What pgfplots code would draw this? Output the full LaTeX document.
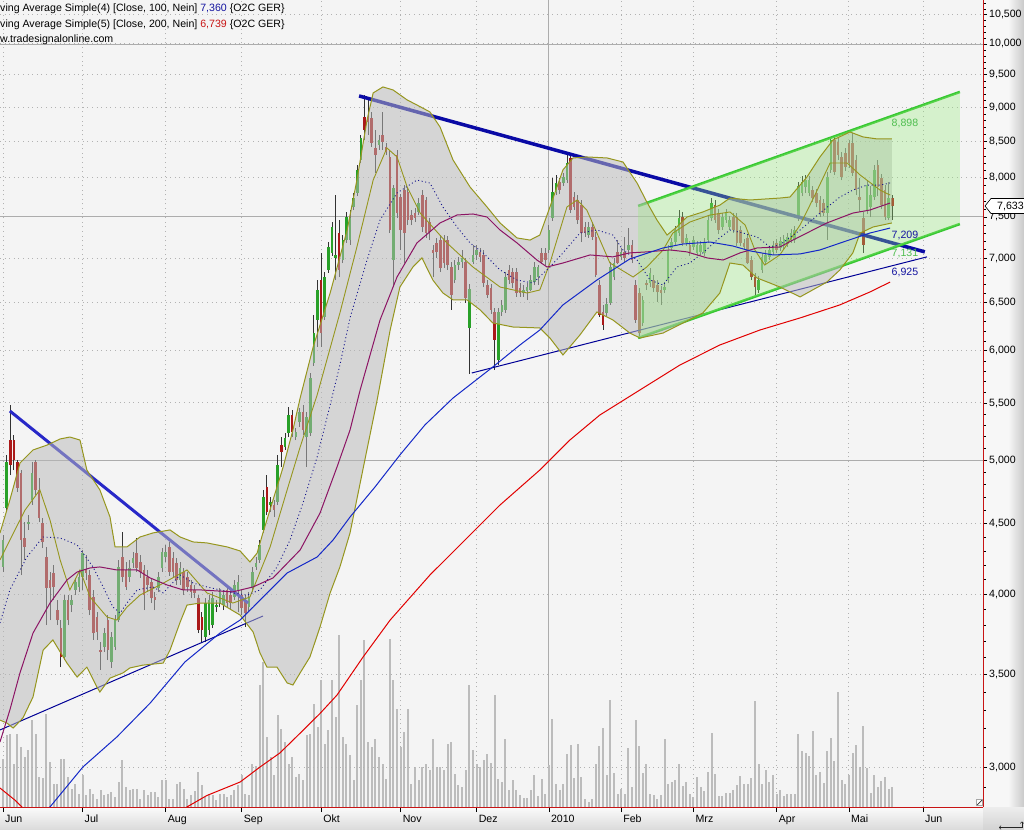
\documentclass[border=0pt]{standalone}
\usepackage{fontspec}
\setmainfont{Liberation Sans}
\usepackage{pgfplots}
\pgfplotsset{compat=1.18}
\usepackage{pgfplotstable}

\definecolor{plotbg}{RGB}{244,244,244}
\definecolor{candleup}{RGB}{40,160,40}
\definecolor{candledn}{RGB}{170,25,25}
\definecolor{wick}{RGB}{50,50,50}
\definecolor{bandfill}{RGB}{185,185,185}
\definecolor{bandline}{RGB}{150,150,30}
\definecolor{smablue}{RGB}{20,40,200}
\definecolor{smapurple}{RGB}{140,20,100}
\definecolor{smared}{RGB}{225,0,0}
\definecolor{midblue}{RGB}{20,20,140}
\definecolor{trendblue}{RGB}{10,10,165}
\definecolor{trendblue2}{RGB}{40,40,200}
\definecolor{thinblue}{RGB}{0,0,150}
\definecolor{chgreen}{RGB}{55,200,50}
\definecolor{chfill}{RGB}{150,235,120}
\definecolor{volbar}{RGB}{188,188,188}
\definecolor{gridgray}{RGB}{178,178,178}
\definecolor{lblgreen}{RGB}{80,190,80}
\definecolor{lblblue}{RGB}{20,20,160}
\definecolor{lblred}{RGB}{200,20,20}
\definecolor{framered}{RGB}{200,20,20}

\newcommand{\tickfont}{\fontsize{10.6}{12}\selectfont}

% daily candles: day index, open, high, low, close
\pgfplotstableread{
d O H L C
0 4186 4415 4151 4378
1 4618 5044 4587 4985
2 5171 5482 4878 4960
3 5171 5214 4919 5002
4 4985 5002 4743 4774
5 4894 4919 4130 4378
6 4393 4511 4235 4328
7 4496 4564 4452 4511
8 4680 4985 4641 4894
9 4985 5002 4719 4759
10 4759 4854 4511 4541
11 4504 4541 4320 4364
12 4256 4328 3800 4042
13 4096 4151 3832 4042
14 4144 4200 3962 4049
15 3896 3962 3800 3832
16 3781 3832 3543 3603
17 3603 3995 3585 3962
18 3962 3995 3800 3832
19 3929 3995 3883 3962
20 4029 4110 3995 4082
21 4049 4165 4016 4117
22 4117 4306 4029 4284
23 4165 4270 4096 4144
24 4130 4165 3864 3896
25 3982 4029 3707 3750
26 3851 3883 3707 3756
27 3645 3694 3526 3633
28 3664 3781 3633 3750
29 3832 3864 3585 3645
30 3573 3756 3538 3725
31 3664 3864 3645 3832
32 3832 4235 3819 4186
33 4256 4437 4082 4117
34 4165 4221 4029 4049
35 4117 4235 4082 4179
36 4214 4292 4179 4249
37 4284 4393 4151 4179
38 4221 4270 4110 4151
39 4165 4200 3896 3995
40 4117 4165 4016 4062
41 4082 4110 3942 3975
42 3982 4016 3896 3962
43 4042 4151 4016 4117
44 4179 4320 4151 4292
45 4256 4342 4221 4292
46 4328 4364 4124 4151
47 4249 4292 4110 4151
48 4214 4249 4062 4096
49 4096 4221 4062 4179
50 4151 4179 3995 4029
51 4117 4151 4016 4049
52 4062 4096 3975 4016
53 4029 4062 3975 4009
54 3975 3995 3750 3769
55 3851 3883 3688 3769
56 3725 3975 3694 3942
57 3769 3995 3737 3962
58 3800 4016 3781 3975
59 3916 3962 3883 3929
60 3942 4042 3916 4016
61 3929 4029 3896 3995
62 4029 4062 3909 3942
63 3995 4029 3896 3942
64 3982 4096 3962 4062
65 4029 4130 3883 4082
66 3995 4029 3864 3909
67 3962 3995 3788 3877
68 3916 4016 3883 3982
69 4042 4186 4016 4151
70 4186 4256 4165 4214
71 4235 4378 4214 4342
72 4452 4759 4430 4703
73 4782 4878 4564 4587
74 4641 4703 4587 4664
75 4641 4680 4549 4602
76 4664 5044 4641 4960
77 5128 5197 4944 5069
78 5111 5231 5086 5188
79 5231 5464 5197 5391
80 5391 5436 5197 5240
81 5197 5275 5171 5240
82 5328 5454 5284 5418
83 5418 5482 5214 5258
84 5197 5418 4944 5373
85 5231 5782 5205 5734
86 5880 6369 5850 6180
87 6316 6750 6038 6639
88 6750 7062 6038 6180
89 6348 6841 6316 6784
90 6864 7191 6830 7132
91 7062 7435 7026 7374
92 7003 7777 6750 7038
93 7300 7460 6784 6864
94 6979 7276 6944 7215
95 7215 7560 7180 7497
96 7215 7585 7156 7485
97 7623 7803 7585 7738
98 7803 8175 7764 8108
99 8243 8594 8202 8551
100 8855 9186 8523 8666
101 8855 9110 8594 8782
102 8840 8930 8424 8480
103 8410 8666 8067 8312
104 8452 8594 8382 8523
105 8594 8930 8382 8495
106 8424 8480 8312 8354
107 8285 8382 7300 7337
108 6979 7907 6672 7868
109 8312 8382 7485 7547
110 7751 7790 7097 7337
111 7842 7907 6944 7300
112 7816 7868 7398 7460
113 7522 7585 7398 7460
114 7547 7610 7435 7485
115 7560 7738 7522 7674
116 7777 7842 7312 7374
117 7712 7751 7240 7300
118 7435 7485 7215 7312
119 7097 7156 6784 7062
120 7180 7240 7003 7074
121 7215 7276 6841 6887
122 7215 7276 6887 6944
123 7215 7264 6864 6921
124 6898 6956 6422 6584
125 6750 6979 6716 6921
126 6921 7015 6864 6956
127 6956 7097 6887 7003
128 6956 7003 6498 6552
129 6232 6700 5773 6650
130 6956 7156 6930 7038
131 7038 7156 6979 7097
132 7074 7121 6956 7015
133 7038 7097 6672 6716
134 6694 6750 6552 6584
135 6661 6705 6380 6422
136 6401 6443 5811 6109
137 5909 6443 5860 6401
138 6401 6530 6358 6476
139 6422 6841 6390 6784
140 6864 6921 6705 6750
141 6841 6887 6661 6716
142 6841 6887 6563 6606
143 6661 6716 6563 6606
144 6606 6694 6563 6639
145 6628 6716 6530 6672
146 6639 6807 6628 6750
147 6727 6956 6694 6898
148 6784 6921 6694 6898
149 7062 7121 6933 6956
150 7062 7121 6921 6979
151 7097 7398 7062 7337
152 7485 8000 7448 7816
153 7816 8040 7777 7934
154 7947 8000 7790 7842
155 7934 8067 7894 8013
156 7973 8340 7934 8202
157 8271 8312 7547 7585
158 7751 7816 7585 7623
159 7712 7777 7410 7460
160 7648 7712 7191 7300
161 7374 7435 7252 7300
162 7276 7435 7240 7374
163 7374 7435 7215 7252
164 7252 7312 6784 6807
165 6694 6750 6348 6369
166 6401 6476 6211 6263
167 6390 6552 6358 6487
168 6498 6956 6476 6898
169 6784 7003 6750 6944
170 7074 7215 6933 6944
171 7015 7121 6979 7074
172 7074 7252 6956 7003
173 7097 7361 7062 7156
174 7156 7215 6944 6979
175 6694 6750 6284 6316
176 6606 6661 6139 6180
177 6284 6573 6253 6530
178 6716 6750 6639 6694
179 6716 6887 6672 6830
180 6750 6807 6617 6661
181 6694 6750 6508 6617
182 6639 6683 6476 6606
183 6639 6727 6606 6672
184 6750 7156 6716 7097
185 7121 7240 7086 7191
186 7191 7386 7156 7337
187 7300 7585 7264 7485
188 7497 7560 7144 7180
189 7180 7288 7144 7240
190 7156 7203 7026 7074
191 7132 7264 7097 7215
192 7062 7203 7026 7156
193 7074 7203 7038 7156
194 7062 7240 7026 7191
195 7215 7510 7180 7460
196 7485 7738 7448 7674
197 7648 7712 7423 7460
198 7547 7598 7288 7337
199 7374 7547 7337 7497
200 7460 7598 7423 7547
201 7374 7510 7337 7460
202 7497 7547 7300 7337
203 7497 7547 7144 7180
204 7337 7386 7144 7180
205 7180 7227 7097 7132
206 7240 7288 6933 6944
207 6979 7026 6750 6784
208 6784 6830 6563 6672
209 6639 6796 6606 6750
210 6864 7062 6830 7015
211 6956 7097 6921 7038
212 7015 7144 6979 7097
213 7074 7203 7038 7156
214 7180 7227 7062 7097
215 7121 7252 7086 7203
216 7144 7276 7109 7227
217 7168 7300 7132 7252
218 7215 7349 7180 7300
219 7215 7386 7180 7337
220 7485 7947 7448 7894
221 7803 8027 7764 7947
222 7881 8040 7803 7973
223 7803 8027 7764 7973
224 7842 7894 7687 7738
225 7803 7855 7623 7674
226 7712 7764 7497 7547
227 7674 7725 7510 7547
228 7547 8081 7215 8013
229 8108 8566 8067 8523
230 8523 8580 8040 8081
231 8495 8551 8243 8312
232 8285 8354 7973 8013
233 8340 8410 8094 8148
234 8480 8523 8135 8202
235 8480 8623 8027 8067
236 8243 8312 7777 7842
237 7751 8000 7560 7712
238 7485 7560 7062 7156
239 7585 7973 7535 7907
240 7623 7894 7497 7777
241 7751 8175 7712 8108
242 8175 8243 7764 7881
243 8000 8054 7598 7648
244 7842 7907 7460 7497
245 7485 7947 7460 7738
246 7738 7777 7460 7633
}\candles

% daily volume (relative units)
\pgfplotstableread{
d v
0 48
1 72
2 73
3 43
4 73
5 60
6 50
7 57
8 87
9 73
10 30
11 29
12 93
13 45
14 23
15 23
16 48
17 48
18 30
19 18
20 23
21 13
22 32
23 12
24 18
25 13
26 8
27 17
28 12
29 13
30 15
31 10
32 25
33 47
34 20
35 17
36 18
37 18
38 8
39 17
40 12
41 15
42 15
43 10
44 27
45 27
46 8
47 8
48 23
49 25
50 18
51 8
52 12
53 16
54 35
55 22
56 10
57 13
58 12
59 7
60 13
61 13
62 10
63 12
64 17
65 22
66 32
67 13
68 12
69 43
70 41
71 122
72 145
73 70
74 50
75 32
76 92
77 78
78 65
79 43
80 50
81 30
82 33
83 27
84 72
85 73
86 103
87 80
88 127
89 63
90 77
91 127
92 90
93 172
94 70
95 63
96 52
97 27
98 102
99 127
100 167
101 65
102 60
103 68
104 50
105 43
106 28
107 168
108 127
109 98
110 60
111 75
112 98
113 23
114 40
115 27
116 40
117 43
118 37
119 68
120 40
121 40
122 37
123 63
124 65
125 33
126 22
127 20
128 37
129 122
130 57
131 43
132 40
133 47
134 53
135 44
136 112
137 28
138 25
139 68
140 17
141 27
142 17
143 12
144 9
145 9
146 17
147 32
148 11
149 28
150 13
151 42
152 88
153 23
154 17
155 23
156 53
157 62
158 29
159 63
160 30
161 8
162 5
163 8
164 43
165 61
166 79
167 32
168 107
169 34
170 13
171 18
172 13
173 59
174 20
175 87
176 61
177 34
178 43
179 13
180 12
181 8
182 12
183 68
184 23
185 25
186 27
187 43
188 21
189 25
190 13
191 10
192 30
193 20
194 16
195 35
196 74
197 33
198 11
199 11
200 14
201 14
202 17
203 22
204 31
205 23
206 23
207 29
208 106
209 43
210 23
211 37
212 25
213 32
214 13
215 17
216 11
217 13
218 13
219 13
220 73
221 56
222 54
223 51
224 76
225 32
226 35
227 24
228 56
229 69
230 46
231 115
232 27
233 23
234 32
235 54
236 62
237 40
238 81
239 39
240 14
241 32
242 20
243 26
244 30
245 18
246 20
}\volume

% Bollinger upper band
\pgfplotstableread{
d p
-0.83 4430
1.9 4680
4.7 4977
8.3 5086
12.2 5128
15.8 5180
18.5 5197
21.3 5171
23.2 4919
26.8 4759
29.6 4549
31.0 4328
34.3 4328
37.9 4400
41.5 4430
46.2 4452
49.0 4400
52.6 4364
56.4 4357
62.0 4328
65.6 4299
68.3 4221
70.3 4284
71.9 4430
74.7 4680
77.5 4944
80.2 5258
82.2 5546
85.8 6038
90.5 6606
95.2 7337
97.9 7973
100.7 8811
102.4 9217
105.1 9309
107.9 9263
111.8 9110
114.5 9034
118.1 8930
120.9 8709
124.5 8243
129.2 7881
133.9 7623
137.5 7423
142.2 7240
145.8 7215
148.5 7276
151.3 7623
154.9 8108
157.7 8271
161.5 8285
167.1 8271
171.5 8216
175.4 7934
178.1 7687
180.9 7460
183.7 7276
186.4 7374
189.2 7497
193.6 7560
198.3 7648
201.1 7738
206.6 7712
214.9 7738
217.7 7751
222.4 8013
226.0 8285
229.6 8523
234.3 8637
237.9 8566
241.8 8537
245.9 8537
}\bbup

% Bollinger lower band
\pgfplotstableread{
d p
-0.83 3244
1.1 3228
2.8 3201
5.5 3255
8.3 3371
11.1 3645
13.8 3707
17.7 3567
20.5 3485
23.2 3543
26.0 3427
26.8 3399
29.6 3479
33.2 3509
35.1 3538
38.7 3555
44.3 3567
46.2 3645
49.0 3819
50.9 3929
54.5 3942
60.0 3942
65.6 3864
69.2 3756
71.1 3627
73.0 3543
75.8 3543
78.6 3451
80.2 3439
82.2 3509
84.9 3603
87.7 3788
90.5 4009
93.2 4186
96.0 4430
100.1 5002
103.5 5528
107.1 6211
109.8 6672
113.4 6898
115.9 7003
118.9 6750
121.7 6606
124.5 6530
128.4 6530
132.0 6422
135.5 6284
141.1 6242
148.5 6232
151.3 6129
154.9 5958
159.6 6160
164.3 6401
168.7 6316
173.4 6180
176.2 6129
182.6 6180
188.1 6284
193.6 6390
198.3 6606
201.1 6944
204.7 6921
208.6 6773
212.2 6716
214.9 6672
220.5 6563
227.9 6727
231.5 6864
235.1 7062
237.1 7300
240.7 7374
245.9 7423
}\bblo

% band outline as one closed polygon: upper band left to right, lower band right to left
\pgfplotstableread{
d p
-0.83 4430
1.9 4680
4.7 4977
8.3 5086
12.2 5128
15.8 5180
18.5 5197
21.3 5171
23.2 4919
26.8 4759
29.6 4549
31.0 4328
34.3 4328
37.9 4400
41.5 4430
46.2 4452
49.0 4400
52.6 4364
56.4 4357
62.0 4328
65.6 4299
68.3 4221
70.3 4284
71.9 4430
74.7 4680
77.5 4944
80.2 5258
82.2 5546
85.8 6038
90.5 6606
95.2 7337
97.9 7973
100.7 8811
102.4 9217
105.1 9309
107.9 9263
111.8 9110
114.5 9034
118.1 8930
120.9 8709
124.5 8243
129.2 7881
133.9 7623
137.5 7423
142.2 7240
145.8 7215
148.5 7276
151.3 7623
154.9 8108
157.7 8271
161.5 8285
167.1 8271
171.5 8216
175.4 7934
178.1 7687
180.9 7460
183.7 7276
186.4 7374
189.2 7497
193.6 7560
198.3 7648
201.1 7738
206.6 7712
214.9 7738
217.7 7751
222.4 8013
226.0 8285
229.6 8523
234.3 8637
237.9 8566
241.8 8537
245.9 8537
245.9 7423
240.7 7374
237.1 7300
235.1 7062
231.5 6864
227.9 6727
220.5 6563
214.9 6672
212.2 6716
208.6 6773
204.7 6921
201.1 6944
198.3 6606
193.6 6390
188.1 6284
182.6 6180
176.2 6129
173.4 6180
168.7 6316
164.3 6401
159.6 6160
154.9 5958
151.3 6129
148.5 6232
141.1 6242
135.5 6284
132.0 6422
128.4 6530
124.5 6530
121.7 6606
118.9 6750
115.9 7003
113.4 6898
109.8 6672
107.1 6211
103.5 5528
100.1 5002
96.0 4430
93.2 4186
90.5 4009
87.7 3788
84.9 3603
82.2 3509
80.2 3439
78.6 3451
75.8 3543
73.0 3543
71.1 3627
69.2 3756
65.6 3864
60.0 3942
54.5 3942
50.9 3929
49.0 3819
46.2 3645
44.3 3567
38.7 3555
35.1 3538
33.2 3509
29.6 3479
26.8 3399
26.0 3427
23.2 3543
20.5 3485
17.7 3567
13.8 3707
11.1 3645
8.3 3371
5.5 3255
2.8 3201
1.1 3228
-0.83 3244
}\bandpoly

% inner envelope line
\pgfplotstableread{
d p
-0.83 4235
1.9 4378
6.1 4602
10.2 4759
13.0 4526
15.8 4235
18.5 4029
21.3 4165
24.1 3982
28.8 3851
31.5 3832
34.3 3916
37.9 3995
43.4 4062
50.9 4165
56.4 4009
63.6 3942
68.3 3982
73.9 4328
78.6 4759
82.2 5111
86.9 5574
93.2 6390
97.9 7132
102.4 7973
106.2 8410
109.0 8285
111.8 7881
115.4 7547
122.8 7180
130.0 6898
137.5 6672
145.0 6606
148.5 6639
151.3 6944
156.0 7623
158.8 7712
161.5 7585
164.3 7300
167.9 6944
174.3 6784
178.1 6898
182.6 7097
185.3 7300
190.0 7435
195.6 7522
201.1 7560
205.3 7398
208.0 7097
210.7 6921
214.9 7038
220.5 7398
224.6 7777
228.8 8202
233.5 8202
237.1 8040
242.6 7842
245.4 7777
}\bbin

% 20-day average (band middle)
\pgfplotstableread{
d p
-0.83 3813
1.9 4029
6.6 4256
11.1 4400
15.8 4393
20.5 4342
22.1 4284
24.9 4186
27.7 4049
30.4 3916
32.4 3877
34.3 3942
37.1 4029
41.5 4049
44.3 4009
49.0 4130
52.6 4075
56.4 4049
60.0 4029
63.6 4009
67.5 3995
71.1 4029
75.8 4186
79.4 4378
83.0 4657
86.9 5027
90.5 5482
93.2 5860
96.0 6337
100.7 6979
104.3 7460
109.0 7803
114.5 7973
118.1 7934
121.7 7623
125.6 7374
129.2 7180
132.8 7062
137.5 6864
142.2 6750
146.6 6716
151.3 6898
154.9 7062
159.6 7300
164.3 7337
168.7 7276
171.5 7097
175.4 6979
179.0 6750
182.6 6694
186.4 6898
190.0 6944
193.6 7062
197.5 7215
201.1 7337
204.7 7300
208.6 7252
212.2 7132
214.9 7156
220.5 7337
226.0 7547
231.5 7751
235.1 7842
239.0 7907
242.6 7907
245.4 7934
}\bbmid

% 50-day average
\pgfplotstableread{
d p
-0.83 3128
1.9 3299
4.7 3509
8.3 3750
13.0 3942
17.7 4096
20.5 4151
24.1 4179
26.8 4186
31.5 4165
37.1 4165
40.7 4110
45.4 4062
49.8 4029
54.5 4029
59.2 4022
63.6 4016
69.2 4049
74.7 4110
82.2 4306
87.7 4579
92.4 4944
96.0 5258
98.8 5621
104.3 6316
109.0 6784
114.5 7180
120.9 7423
125.6 7522
130.0 7535
133.9 7497
137.5 7337
142.2 7180
147.7 6979
150.5 6898
154.9 6944
162.4 7038
168.7 7015
173.4 7062
178.1 7074
184.5 7097
189.2 7074
194.8 7003
199.2 6979
203.9 7062
208.6 7121
214.9 7132
218.5 7215
227.9 7423
235.1 7547
239.8 7585
245.4 7674
}\smafifty

% 100-day average
\pgfplotstableread{
d p
8.0 2720
13.0 2807
22.1 3000
31.5 3154
40.7 3337
50.3 3573
60.0 3750
65.6 3832
69.2 3916
78.6 4144
86.9 4256
91.3 4378
96.0 4549
102.9 4782
109.8 5044
116.7 5302
124.5 5546
135.5 5840
143.0 6058
148.5 6211
154.9 6476
164.3 6750
173.4 6991
182.6 7121
188.1 7168
195.6 7191
201.9 7144
206.6 7086
213.0 7038
220.5 7050
226.0 7097
232.4 7191
239.8 7300
245.4 7361
}\smahundred

% 200-day average
\pgfplotstableread{
d p
-0.83 2897
3.3 2839
7.5 2770
13.0 2701
26.8 2690
40.7 2720
50.9 2807
56.4 2861
65.6 2926
71.1 3000
76.6 3071
82.2 3174
87.7 3280
92.4 3382
99.6 3603
107.1 3832
118.1 4130
129.2 4415
137.5 4641
148.5 4919
156.8 5171
165.1 5391
176.2 5621
187.3 5860
198.3 6058
209.4 6211
220.5 6337
231.5 6476
239.8 6617
245.4 6727
}\smatwohundred

\begin{document}
\begin{tikzpicture}
\useasboundingbox (0,0) rectangle (1024pt,829pt);
\clip (0,0) rectangle (1024pt,829pt);
\shade[top color=gray!3, bottom color=gray!28] (0,0) rectangle (983pt,22pt);
\fill[gray!6] (983pt,22pt) rectangle (1008pt,829pt);
\shade[left color=gray!6, right color=gray!42] (1008pt,22pt) rectangle (1024pt,829pt);
\shade[top color=gray!14, bottom color=gray!34] (983pt,0pt) rectangle (1024pt,22pt);
\draw[black!85, line width=0.6pt, <->] (1022pt,7.5pt) -- (1022pt,1.5pt) -- (999pt,1.5pt);

% volume panel, also carries the date axis
\begin{axis}[
    at={(0pt,22pt)}, anchor=south west,
    width=983pt, height=807pt, scale only axis,
    xmin=-0.83, xmax=271.1, ymin=0, ymax=807,
    axis background/.style={fill=plotbg},
    axis x line*=bottom, axis y line=none,
    x axis line style={draw=framered, line width=1pt},
    ytick=\empty,
    xtick={0,22,45,66,88,110,131,151,171,191,214,234,254.5},
    xticklabels={Jun,Jul,Aug,Sep,Okt,Nov,Dez,2010,Feb,Mrz,Apr,Mai,Jun},
    tick align=outside, major tick length=5pt,
    tick style={black, line width=0.6pt},
    xticklabel style={anchor=base west, inner sep=0pt, xshift=2pt, yshift=-10pt, font=\tickfont},
    xmajorgrids,
    grid style={draw=gridgray, line width=1pt, dash pattern=on 1pt off 3.6pt},
    extra x ticks={151}, extra x tick labels={},
    extra x tick style={major grid style={solid, draw=gray!65, line width=0.8pt}, major tick length=0pt},
]
\addplot[ycomb, draw=volbar, line width=2pt] table[x=d, y=v] {\volume};
\end{axis}

% price panel
\begin{axis}[
    at={(0pt,22pt)}, anchor=south west,
    width=983pt, height=807pt, scale only axis,
    xmin=-0.83, xmax=271.1, ymode=log, ymin=2807, ymax=10761,
    axis x line=none, axis y line*=right,
    y axis line style={draw=framered, line width=1pt},
    xtick=\empty,
    ytick={3000,3500,4000,4500,5000,5500,6000,6500,7000,7500,8000,8500,9000,9500,10000,10500},
    yticklabels={{3,000},{3,500},{4,000},{4,500},{5,000},{5,500},{6,000},{6,500},{7,000},{7,500},{8,000},{8,500},{9,000},{9,500},{10,000},{10,500}},
    minor ytick={2900,3100,3200,3300,3400,3600,3700,3800,3900,4100,4200,4300,4400,4600,4700,4800,4900,5100,5200,5300,5400,5600,5700,5800,5900,6100,6200,6300,6400,6600,6700,6800,6900,7100,7200,7300,7400,7600,7700,7800,7900,8100,8200,8300,8400,8600,8700,8800,8900,9100,9200,9300,9400,9600,9700,9800,9900,10100,10200,10300,10400,10600,10700},
    tick align=outside, major tick length=4pt, minor tick length=2.5pt,
    tick style={black, line width=0.6pt},
    yticklabel style={anchor=west, inner sep=0pt, xshift=2pt, font=\tickfont},
    ymajorgrids,
    grid style={draw=gridgray, line width=1pt, dash pattern=on 1pt off 3.6pt},
    extra y ticks={5000,7500,10000}, extra y tick labels={},
    extra y tick style={major grid style={solid, draw=gray!65, line width=0.8pt}, major tick length=0pt},
]
% wicks
\addplot[draw=none, forget plot, error bars/.cd, y dir=plus, y explicit, error mark=none,
    error bar style={draw=wick, line width=0.8pt}]
    table[x=d, y=L, y error expr={\thisrow{H}-\thisrow{L}}] {\candles};
% rising bodies
\addplot[draw=none, forget plot, error bars/.cd, y dir=plus, y explicit, error mark=none,
    error bar style={draw=candleup, line width=2.6pt}]
    table[x=d, y=O, y error expr={max(\thisrow{C}-\thisrow{O},0)}] {\candles};
% falling bodies
\addplot[draw=none, forget plot, error bars/.cd, y dir=plus, y explicit, error mark=none,
    error bar style={draw=candledn, line width=2.6pt}]
    table[x=d, y=C, y error expr={max(\thisrow{O}-\thisrow{C},0)}] {\candles};

% trend lines
\addplot[trendblue, line width=3.5pt] coordinates {(98.5,9171) (255.0,7074)};
\addplot[trendblue2, line width=3pt] coordinates {(1.9,5427) (67.8,3942)};
\addplot[thinblue, line width=1pt] coordinates {(-0.83,3191) (71.9,3858)};
\addplot[thinblue, line width=1pt] coordinates {(129.7,5782) (255.6,7015)};
\addplot[chgreen, line width=2.6pt] coordinates {(175.7,7636) (264.7,9232)};
\addplot[chgreen, line width=2.6pt] coordinates {(175.7,6129) (264.7,7410)};

% translucent band and channel areas
\addplot[fill=bandfill, fill opacity=0.52, draw=none] table[x=d, y=p] {\bandpoly} -- cycle;
\addplot[fill=chfill, fill opacity=0.32, draw=none] coordinates {(175.7,7636) (264.7,9232) (264.7,7410) (175.7,6129)} -- cycle;

\addplot[bandline, line width=1pt] table[x=d, y=p] {\bbup};
\addplot[bandline, line width=1pt] table[x=d, y=p] {\bblo};
\addplot[bandline, line width=0.9pt] table[x=d, y=p] {\bbin};

% moving averages
\addplot[midblue, line width=0.9pt, dash pattern=on 1pt off 2.6pt] table[x=d, y=p] {\bbmid};
\addplot[smapurple, line width=1pt] table[x=d, y=p] {\smafifty};
\addplot[smablue, line width=1pt] table[x=d, y=p] {\smahundred};
\addplot[smared, line width=1pt] table[x=d, y=p] {\smatwohundred};

% line values
\node[font=\tickfont, text=lblgreen] at (axis cs:249.5,8767) {8,898};
\node[font=\tickfont, text=lblblue] at (axis cs:249.5,7276) {7,209};
\node[font=\tickfont, text=lblgreen] at (axis cs:249.5,7050) {7,131};
\node[font=\tickfont, text=lblblue] at (axis cs:249.5,6830) {6,925};
\end{axis}

% small corner icon inside the plot
\draw[fill=white, draw=gray!70, line width=0.5pt] (976.5pt,23.5pt) rectangle (982.5pt,29.5pt);
\draw[black!80, line width=0.7pt] (977pt,24pt) -- (982pt,29pt);

% last price marker
\draw[fill=white, draw=black, line width=0.6pt] (985pt,623pt) -- (991pt,630.5pt) -- (1030pt,630.5pt) -- (1030pt,615.5pt) -- (991pt,615.5pt) -- cycle;
\node[anchor=west, inner sep=0pt, font=\tickfont] at (997pt,623pt) {7,633};

% header texts
\node[anchor=base west, inner sep=0pt, font=\tickfont] at (-14.7pt,817pt)
    {Moving Average Simple(4) [Close, 100, Nein] \textcolor{lblblue}{7,360} \{O2C GER\}};
\node[anchor=base west, inner sep=0pt, font=\tickfont] at (-14.7pt,801.5pt)
    {Moving Average Simple(5) [Close, 200, Nein] \textcolor{lblred}{6,739} \{O2C GER\}};
\node[anchor=base west, inner sep=0pt, font=\tickfont] at (-15.3pt,786pt)
    {www.tradesignalonline.com};
\end{tikzpicture}
\end{document}
